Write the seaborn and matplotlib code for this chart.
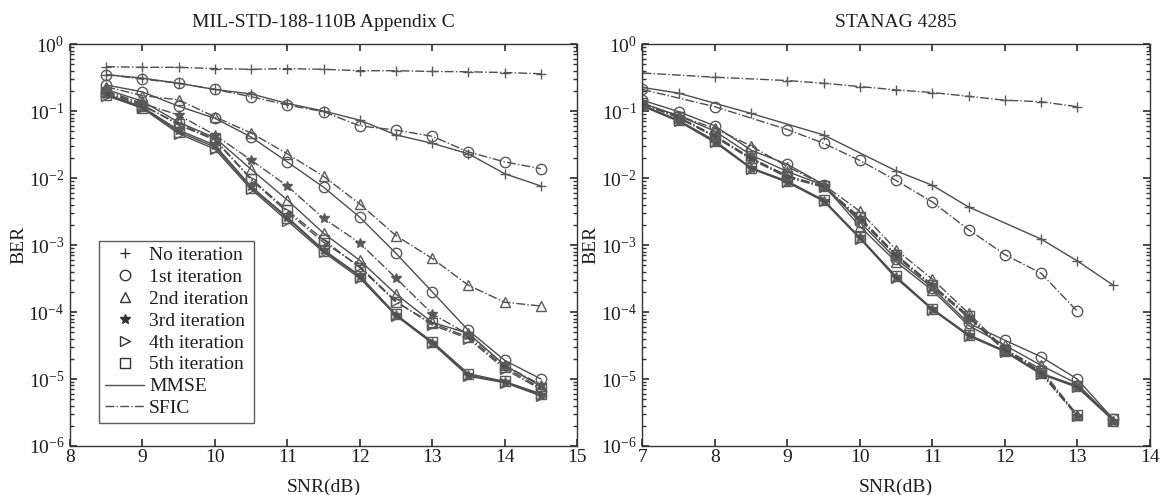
import numpy as np
import pandas as pd
import matplotlib
matplotlib.use("Agg")
import matplotlib.pyplot as plt
from matplotlib.lines import Line2D
from matplotlib.ticker import FixedLocator, LogLocator, LogFormatterMathtext, NullFormatter
import seaborn as sns

# ---- left panel: MIL-STD-188-110B Appendix C ----
snr_left = [8.5, 9, 9.5, 10, 10.5, 11, 11.5, 12, 12.5, 13, 13.5, 14, 14.5]

left_mmse_0 = [0.35, 0.31, 0.26, 0.21, 0.18, 0.13, 0.10, 0.073, 0.044, 0.033, 0.023, 0.0116, 0.0076]
left_mmse_1 = [0.245, 0.193, 0.118, 0.078, 0.041, 0.0174, 0.0073, 0.0026, 7.5e-4, 2.0e-4, 5.3e-5, 1.9e-5, 1.0e-5]
left_mmse_2 = [0.21, 0.14, 0.068, 0.040, 0.0135, 0.0047, 0.0015, 5.9e-4, 1.85e-4, 7.0e-5, 4.8e-5, 1.6e-5, 7.8e-6]
left_mmse_3 = [0.18, 0.115, 0.052, 0.031, 0.0075, 0.0026, 8.5e-4, 3.5e-4, 9.0e-5, 3.5e-5, 1.15e-5, 9.0e-6, 5.8e-6]
left_mmse_4 = [0.17, 0.11, 0.046, 0.027, 0.0068, 0.0023, 7.8e-4, 3.2e-4, 8.8e-5, 3.4e-5, 1.1e-5, 8.8e-6, 5.6e-6]
left_mmse_5 = [0.175, 0.112, 0.049, 0.029, 0.0072, 0.0025, 8.2e-4, 3.4e-4, 9.2e-5, 3.6e-5, 1.2e-5, 9.2e-6, 6.0e-6]

left_sfic_0 = [0.46, 0.45, 0.45, 0.43, 0.42, 0.43, 0.42, 0.40, 0.40, 0.39, 0.385, 0.376, 0.36]
left_sfic_1 = [0.35, 0.30, 0.26, 0.21, 0.164, 0.123, 0.098, 0.060, 0.052, 0.042, 0.0245, 0.0174, 0.0138]
left_sfic_2 = [0.23, 0.17, 0.147, 0.082, 0.047, 0.023, 0.0106, 0.0041, 0.00138, 6.3e-4, 2.5e-4, 1.4e-4, 1.23e-4]
left_sfic_3 = [0.20, 0.13, 0.087, 0.044, 0.0185, 0.0076, 0.0025, 0.00107, 3.2e-4, 9.4e-5, 4.6e-5, 1.6e-5, 8.2e-6]
left_sfic_4 = [0.19, 0.125, 0.062, 0.037, 0.0095, 0.0031, 0.0011, 4.8e-4, 1.45e-4, 6.4e-5, 4.0e-5, 1.4e-5, 7.0e-6]
left_sfic_5 = [0.19, 0.12, 0.065, 0.038, 0.0098, 0.0033, 0.0012, 4.6e-4, 1.4e-4, 6.8e-5, 4.2e-5, 1.5e-5, 7.3e-6]

# ---- right panel: STANAG 4285 ----
snr_right = [7, 7.5, 8, 8.5, 9, 9.5, 10, 10.5, 11, 11.5, 12, 12.5, 13, 13.5]
snr_right_sfic = snr_right[:-1]
snr_right_mmse0 = [7, 7.5, 8.5, 9.5, 10.5, 11, 11.5, 12.5, 13, 13.5]
snr_right_sfic0 = [7, 8, 9, 9.5, 10, 10.5, 11, 11.5, 12, 12.5, 13]
snr_right_sfic1 = [7, 8, 9, 9.5, 10, 10.5, 11, 11.5, 12, 12.5, 13]

right_mmse_0 = [0.225, 0.185, 0.092, 0.044, 0.0128, 0.0078, 0.0037, 0.00123, 5.8e-4, 2.5e-4]
right_mmse_1 = [0.145, 0.098, 0.06, 0.026, 0.016, 0.008, 0.0022, 6.2e-4, 2.3e-4, 6.8e-5, 3.8e-5, 2.15e-5, 1.0e-5, 2.5e-6]
right_mmse_2 = [0.13, 0.085, 0.05, 0.022, 0.0125, 0.0078, 0.0019, 5.6e-4, 2.1e-4, 6.3e-5, 3.2e-5, 1.6e-5, 8.5e-6, 2.4e-6]
right_mmse_3 = [0.12, 0.072, 0.035, 0.014, 0.0088, 0.0046, 0.0013, 3.3e-4, 1.1e-4, 4.5e-5, 2.6e-5, 1.2e-5, 7.7e-6, 2.4e-6]
right_mmse_4 = [0.118, 0.070, 0.034, 0.0138, 0.0086, 0.0045, 0.00125, 3.2e-4, 1.08e-4, 4.4e-5, 2.55e-5, 1.18e-5, 7.5e-6, 2.4e-6]
right_mmse_5 = [0.122, 0.073, 0.036, 0.0142, 0.009, 0.0047, 0.0013, 3.4e-4, 1.12e-4, 4.6e-5, 2.65e-5, 1.22e-5, 7.9e-6, 2.5e-6]

right_sfic_0 = [0.37, 0.32, 0.285, 0.26, 0.232, 0.207, 0.189, 0.166, 0.145, 0.138, 0.116]
right_sfic_1 = [0.21, 0.116, 0.053, 0.033, 0.0183, 0.0092, 0.0044, 0.0017, 7.2e-4, 3.8e-4, 1.03e-4]
right_sfic_2 = [0.13, 0.085, 0.055, 0.03, 0.0148, 0.0079, 0.0032, 8.5e-4, 3.1e-4, 9.6e-5, 2.8e-5, 1.4e-5, 2.9e-6]
right_sfic_3 = [0.13, 0.08, 0.042, 0.0196, 0.0105, 0.0075, 0.0025, 7.0e-4, 2.5e-4, 8.5e-5, 2.7e-5, 1.25e-5, 2.8e-6]
right_sfic_4 = [0.128, 0.079, 0.041, 0.019, 0.0102, 0.0073, 0.0024, 6.8e-4, 2.4e-4, 8.2e-5, 2.65e-5, 1.2e-5, 2.8e-6]
right_sfic_5 = [0.132, 0.081, 0.043, 0.020, 0.0108, 0.0076, 0.0026, 7.2e-4, 2.55e-4, 8.8e-5, 2.75e-5, 1.3e-5, 2.9e-6]

iteration_labels = ["No iteration", "1st iteration", "2nd iteration",
                    "3rd iteration", "4th iteration", "5th iteration"]
iteration_markers = ["+", "o", "^", "*", ">", "s"]
ber_ticks = [1e-6, 1e-5, 1e-4, 1e-3, 1e-2, 1e-1, 1e0]

line_color = "#4d4d4d"
marker_color = "#5a5a5a"
text_color = "#1e1e1e"

sns.set_theme(style="ticks")
plt.rcParams["font.family"] = ["Liberation Serif", "DejaVu Serif"]
plt.rcParams["mathtext.fontset"] = "stix"


def draw_series(ax, x, y, marker, ls):
    filled = marker in ("+", "*")
    sns.lineplot(x=x, y=y, ax=ax, color=line_color, linestyle=ls, linewidth=1.0,
                 marker=marker, markersize=7.5 if marker != "*" else 7,
                 markerfacecolor=marker_color if filled else "none",
                 markeredgecolor=marker_color, markeredgewidth=1.0,
                 sort=False, estimator=None)


def style_axes(ax, xlim, title):
    ax.set_yscale("log")
    ax.set_ylim(1e-6, 1)
    ax.set_xlim(*xlim)
    ax.set_xticks(range(int(xlim[0]), int(xlim[1]) + 1))
    ax.yaxis.set_major_locator(FixedLocator(ber_ticks))
    ax.yaxis.set_major_formatter(LogFormatterMathtext())
    ax.yaxis.set_minor_locator(LogLocator(base=10, subs=np.arange(2, 10), numticks=20))
    ax.yaxis.set_minor_formatter(NullFormatter())
    ax.tick_params(which="both", direction="in", top=True, right=True, colors="#333333",
                   labelsize=14, labelcolor=text_color)
    ax.tick_params(which="major", length=5)
    ax.tick_params(axis="x", which="major", pad=2)
    ax.tick_params(axis="y", which="major", pad=4)
    ax.tick_params(which="minor", length=3)
    for sp in ax.spines.values():
        sp.set_color("#333333")
        sp.set_linewidth(1.0)
    ax.set_xlabel("SNR(dB)", fontsize=14, color=text_color, labelpad=9)
    ax.set_ylabel("BER", fontsize=14, color=text_color, labelpad=1)
    ax.set_title(title, fontsize=14, color=text_color, pad=12)


fig = plt.figure(figsize=(11.66, 4.95), dpi=100)
ax_l = fig.add_axes([0.060, 0.099, 0.435, 0.812])
ax_r = fig.add_axes([0.551, 0.099, 0.435, 0.812])

left_mmse = [left_mmse_0, left_mmse_1, left_mmse_2, left_mmse_3, left_mmse_4, left_mmse_5]
left_sfic = [left_sfic_0, left_sfic_1, left_sfic_2, left_sfic_3, left_sfic_4, left_sfic_5]
for i in range(6):
    draw_series(ax_l, snr_left, left_mmse[i], iteration_markers[i], "-")
    draw_series(ax_l, snr_left, left_sfic[i], iteration_markers[i], "-.")

right_mmse = [right_mmse_1, right_mmse_2, right_mmse_3, right_mmse_4, right_mmse_5]
right_sfic = [right_sfic_2, right_sfic_3, right_sfic_4, right_sfic_5]
draw_series(ax_r, snr_right_mmse0, right_mmse_0, "+", "-")
draw_series(ax_r, snr_right_sfic0, right_sfic_0, "+", "-.")
draw_series(ax_r, snr_right_sfic1, right_sfic_1, "o", "-.")
for i, ys in enumerate(right_mmse):
    draw_series(ax_r, snr_right, ys, iteration_markers[i + 1], "-")
for i, ys in enumerate(right_sfic):
    draw_series(ax_r, snr_right_sfic, ys, iteration_markers[i + 2], "-.")

style_axes(ax_l, (8, 15), "MIL-STD-188-110B Appendix C")
style_axes(ax_r, (7, 14), "STANAG 4285")

handles = []
for lab, m in zip(iteration_labels, iteration_markers):
    filled = m in ("+", "*")
    handles.append(Line2D([], [], linestyle="none", marker=m, markersize=7.5 if m != "*" else 7,
                          markerfacecolor="#333333" if filled else "none",
                          markeredgecolor="#333333", label=lab))
handles.append(Line2D([], [], color=line_color, linestyle="-", linewidth=1.0, label="MMSE"))
handles.append(Line2D([], [], color=line_color, linestyle="-.", linewidth=1.0, label="SFIC"))
leg = ax_l.legend(handles=handles, loc="lower left", bbox_to_anchor=(0.058, 0.057),
                  fontsize=14, frameon=True, fancybox=False, edgecolor="#333333",
                  handlelength=2.0, labelspacing=0.22, borderpad=0.3, handletextpad=0.25,
                  borderaxespad=0)
for t in leg.get_texts():
    t.set_color(text_color)
leg.get_frame().set_linewidth(1.0)

fig.savefig("out.png", dpi=100)
